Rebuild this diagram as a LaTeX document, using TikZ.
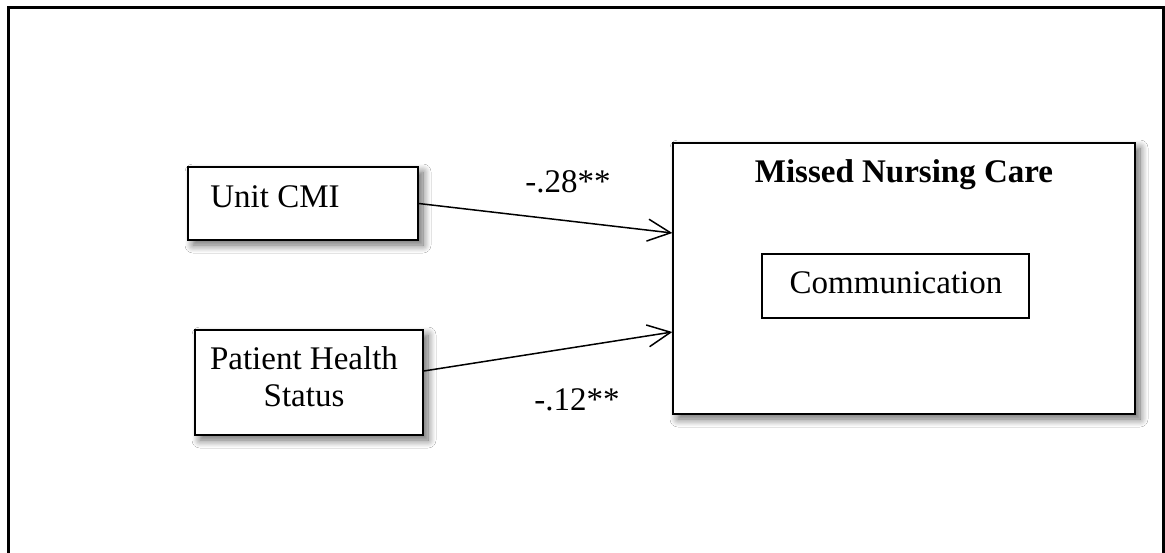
\documentclass[tikz,border=0pt]{standalone}
\usepackage{fontspec}
\setmainfont{Liberation Serif}
\usetikzlibrary{arrows.meta,shadows.blur}
\begin{document}
\begin{tikzpicture}[x=0.5pt,y=-0.5pt,
  box/.style={draw=black, line width=0.7pt, fill=white,
    blur shadow={shadow xshift=2.5pt, shadow yshift=-2.5pt, shadow blur steps=10,
      shadow blur radius=4pt, shadow opacity=60}},
  plainbox/.style={draw=black, line width=0.7pt, fill=white},
  lbl/.style={font=\fontsize{16.5}{18.5}\selectfont, inner sep=0pt},
  arr/.style={-{Straight Barb[length=11.5pt,width=11pt]}, line width=0.75pt}]
\useasboundingbox (0,0) rectangle (1165,552);
\fill[white] (0,0) rectangle (1165,552);
\begin{scope}
\clip (0,0) rectangle (1165,552);
\draw[line width=1.5pt] (8.5,600) -- (8.5,7.5) -- (1163.5,7.5) -- (1163.5,600);
\end{scope}
% boxes
\node[box, minimum width=115pt, minimum height=36.5pt, inner sep=0pt] (cmi) at (303,203.5) {};
\node[lbl, anchor=base west] (cmitxt) at (210,207) {Unit CMI};
\node[box, minimum width=114pt, minimum height=52.5pt, inner sep=0pt] (phs) at (309,382.5) {};
\node[lbl, align=center] (phstxt) at (304,377) {Patient Health\\Status};
\node[box, minimum width=231pt, minimum height=135.5pt, inner sep=0pt] (mnc) at (904,278.5) {};
\node[lbl, anchor=base, font=\fontsize{16.5}{18.5}\selectfont\bfseries] (mnctxt) at (904,182) {Missed Nursing Care};
\node[plainbox, minimum width=133.5pt, minimum height=32pt, inner sep=0pt] (comm) at (895.5,286) {};
\node[lbl, anchor=base] (commtxt) at (896,293) {Communication};
% arrows
\draw[arr] (cmi.east) -- ([yshift=22.75pt]mnc.west);
\draw[arr] ([yshift=5.75pt]phs.east) -- ([yshift=-26.75pt]mnc.west);
% labels
\node[lbl, anchor=base] (l1) at (568,192) {-.28**};
\node[lbl, anchor=base] (l2) at (577,410) {-.12**};
\end{tikzpicture}
\end{document}
